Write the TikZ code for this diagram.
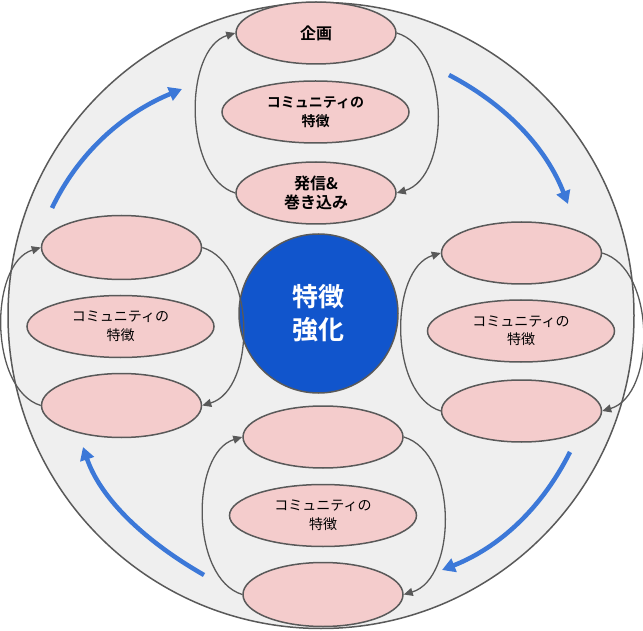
\documentclass[tikz,border=0pt]{standalone}
\usepackage{fontspec}
\setmainfont{Noto Sans CJK JP}[BoldFont={Noto Sans CJK JP Bold}]
\usetikzlibrary{shapes.geometric,arrows.meta}
\definecolor{ringfill}{HTML}{EFEFEF}
\definecolor{edge}{HTML}{595959}
\definecolor{pink}{HTML}{F4CCCC}
\definecolor{core}{HTML}{1155CC}
\definecolor{flow}{HTML}{3C78D8}
\tikzset{
  ring/.style={circle,draw=edge,fill=ringfill,line width=1.5pt,minimum size=626pt,inner sep=0pt},
  corebox/.style={circle,draw=edge,fill=core,line width=1.5pt,minimum size=159pt,inner sep=0pt,
    text=white,font=\bfseries\fontsize{26}{33}\selectfont,align=center},
  petal/.style={ellipse,draw=edge,fill=pink,line width=1.5pt,minimum width=160pt,minimum height=62pt,inner sep=0pt,
    align=center,font=\fontsize{14}{18.5}\selectfont},
  petalwide/.style={petal,minimum width=187pt},
  bigtext/.style={font=\bfseries\fontsize{16}{19}\selectfont},
  loop/.style={draw=edge,line width=1.3pt,-{Triangle[length=9pt,width=8pt]}},
  flowarrow/.style={draw=flow,line width=4.5pt,-{Triangle[length=13pt,width=14pt]}},
}
\begin{document}
\begin{tikzpicture}[x=1pt,y=-1pt]
\useasboundingbox (0,0) rectangle (643,631);
\node[ring] (ring) at (321,315.5) {};
\node[corebox] (core) at (318.5,313.5) {特徴\\強化};
% top cluster
\node[petal,bigtext] (a1) at (316,33) {企画};
\node[petalwide,font=\bfseries\fontsize{14}{18.5}\selectfont] (a2) at (315.5,112) {コミュニティの\\特徴};
\node[petal,bigtext] (a3) at (316,193) {発信\&\\巻き込み};
% left cluster
\node[petal,minimum height=64pt] (b1) at (121.5,247.5) {};
\node[petalwide] (b2) at (120.5,326.5) {コミュニティの\\特徴};
\node[petal,minimum height=64pt] (b3) at (121.5,405.5) {};
% right cluster
\node[petal] (c1) at (521.5,253) {};
\node[petalwide] (c2) at (521,331) {コミュニティの\\特徴};
\node[petal] (c3) at (521.5,411) {};
% bottom cluster
\node[petal] (d1) at (323,437) {};
\node[petalwide] (d2) at (323,515.5) {コミュニティの\\特徴};
\node[petal,minimum height=64pt] (d3) at (323,594.5) {};
% loop connectors
\foreach \t/\b in {a1/a3,b1/b3,c1/c3,d1/d3}{
  \draw[loop] (\b.west) .. controls +(-52,-16) and +(-52,16) .. (\t.west);
  \draw[loop] (\t.east) .. controls +(54,16) and +(54,-16) .. (\b.east);
}
% blue flow arrows
\coordinate (f1s) at (52,208); \coordinate (f1e) at (182,89);
\coordinate (f2s) at (449,75); \coordinate (f2e) at (568,204);
\coordinate (f3s) at (570,452); \coordinate (f3e) at (442,570);
\coordinate (f4s) at (204,575); \coordinate (f4e) at (83,447);
\draw[flowarrow] (f1s) .. controls (77.7,154.3) and (121,114.3) .. (f1e);
\draw[flowarrow] (f2s) .. controls (506.5,105) and (546.2,148) .. (f2e);
\draw[flowarrow] (f3s) .. controls (541.9,508.2) and (499.2,547.5) .. (f3e);
\draw[flowarrow] (f4s) .. controls (139.8,538.2) and (99.5,495.5) .. (f4e);
\end{tikzpicture}
\end{document}
